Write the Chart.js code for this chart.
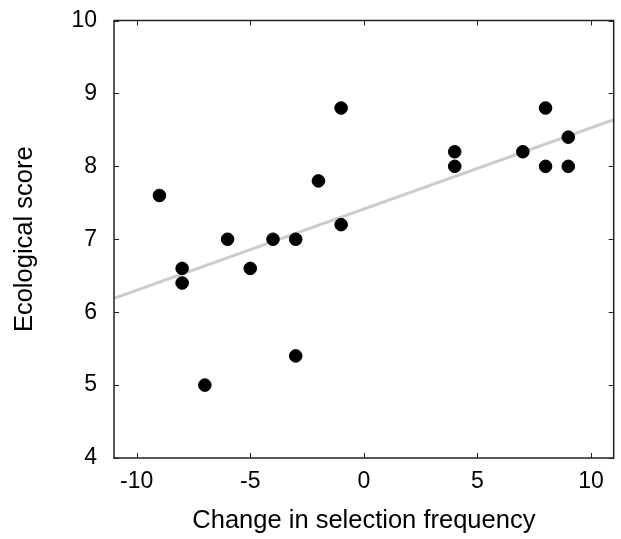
<!DOCTYPE html>
<html>
<head>
<meta charset="utf-8">
<script src="https://cdn.jsdelivr.net/npm/chart.js@4/dist/chart.umd.min.js"></script>
<style>
  html, body { margin: 0; padding: 0; background: #ffffff; }
  #wrap { width: 621px; height: 539px; position: relative; }
</style>
</head>
<body>
<div id="wrap"><canvas id="c" width="621" height="539"></canvas></div>
<script>
// Data
const selectionChange = [-9, -8, -8, -7, -6, -5, -4, -3, -3, -2, -1, -1, 4, 4, 7, 8, 8, 9, 9];
const ecologicalScore = [7.6, 6.6, 6.4, 5.0, 7.0, 6.6, 7.0, 7.0, 5.4, 7.8, 8.8, 7.2, 8.2, 8.0, 8.2, 8.8, 8.0, 8.4, 8.0];
const fitLineX = [-11, 11];
const fitLineY = [6.19, 8.64];
const xTickValues = [-10, -5, 0, 5, 10];
const yTickValues = [4, 5, 6, 7, 8, 9, 10];

const points = selectionChange.map((x, i) => ({ x: x, y: ecologicalScore[i] }));
const fitPoints = fitLineX.map((x, i) => ({ x: x, y: fitLineY[i] }));

const FONT = "'Liberation Sans', Arial, Helvetica, sans-serif";

const framePlugin = {
  id: 'frame',
  afterDatasetsDraw(chart) {
    const ctx = chart.ctx;
    const a = chart.chartArea;
    const xs = chart.scales.x, ys = chart.scales.y;
    ctx.save();
    ctx.strokeStyle = '#222';
    ctx.lineWidth = 1.5;
    ctx.strokeRect(a.left, a.top, a.right - a.left, a.bottom - a.top);
    ctx.lineWidth = 1;
    const tl = 5;
    ctx.beginPath();
    xs.ticks.forEach(t => {
      const px = Math.round(xs.getPixelForValue(t.value)) + 0.5;
      ctx.moveTo(px, a.bottom); ctx.lineTo(px, a.bottom - tl);
      ctx.moveTo(px, a.top); ctx.lineTo(px, a.top + tl);
    });
    ys.ticks.forEach(t => {
      const py = Math.round(ys.getPixelForValue(t.value)) + 0.5;
      ctx.moveTo(a.left, py); ctx.lineTo(a.left + tl, py);
      ctx.moveTo(a.right, py); ctx.lineTo(a.right - tl, py);
    });
    ctx.stroke();
    ctx.restore();
  }
};

new Chart(document.getElementById('c'), {
  type: 'scatter',
  data: {
    datasets: [
      {
        type: 'line',
        data: fitPoints,
        borderColor: '#cccccc',
        borderWidth: 3,
        pointRadius: 0,
        fill: false,
        order: 2
      },
      {
        data: points,
        backgroundColor: '#000000',
        borderColor: '#000000',
        pointRadius: 6.3,
        pointHoverRadius: 6.3,
        order: 1
      }
    ]
  },
  options: {
    responsive: false,
    animation: false,
    events: [],
    layout: { padding: { top: 20.5, right: 7, left: 0, bottom: 0 } },
    plugins: { legend: { display: false }, tooltip: { enabled: false } },
    scales: {
      x: {
        type: 'linear',
        min: -11,
        max: 11,
        afterBuildTicks: s => { s.ticks = xTickValues.map(v => ({ value: v })); },
        afterFit: s => { s.height = 81; s.paddingLeft = 0; s.paddingRight = 0; },
        grid: { display: false, drawTicks: false },
        border: { display: false },
        ticks: { color: '#000', padding: 10, font: { family: FONT, size: 23 } },
        title: {
          display: true,
          text: 'Change in selection frequency',
          color: '#000',
          font: { family: FONT, size: 25.5 },
          padding: { top: 0, bottom: 3 }
        }
      },
      y: {
        type: 'linear',
        min: 4,
        max: 10,
        afterBuildTicks: s => { s.ticks = yTickValues.map(v => ({ value: v })); },
        afterFit: s => { s.width = 114; s.paddingTop = 0; s.paddingBottom = 0; },
        grid: { display: false, drawTicks: false },
        border: { display: false },
        ticks: { color: '#000', padding: 17, font: { family: FONT, size: 23 } },
        title: {
          display: true,
          text: 'Ecological score',
          color: '#000',
          font: { family: FONT, size: 25.5 },
          padding: { top: 10, bottom: 0 }
        }
      }
    }
  },
  plugins: [framePlugin]
});
</script>
</body>
</html>
